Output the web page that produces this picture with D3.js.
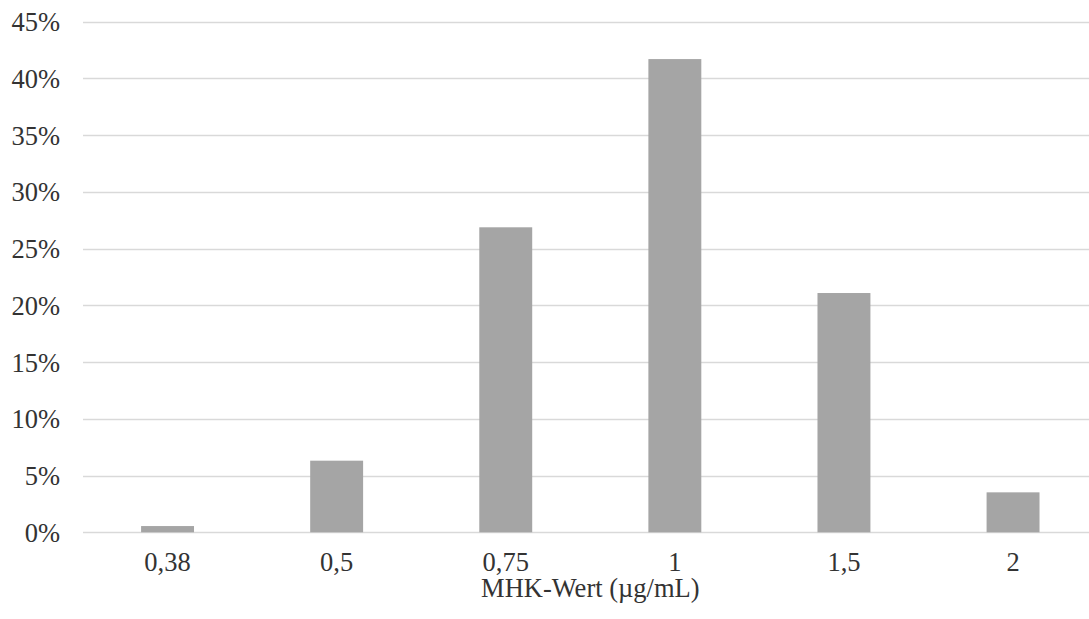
<!DOCTYPE html>
<html>
<head>
<meta charset="utf-8">
<script src="https://cdn.jsdelivr.net/npm/d3@7"></script>
<style>
  html, body { margin: 0; padding: 0; background: #fff; }
  svg { display: block; }
  .tick text { font-family: "Liberation Serif", "Times New Roman", serif; fill: #333; }
</style>
</head>
<body>
<div id="chart"></div>
<script>
// MIC distribution (share of isolates per MIC value)
const categories = ["0,38", "0,5", "0,75", "1", "1,5", "2"];
const shares = [0.55, 6.31, 26.87, 41.69, 21.08, 3.52];
const y_ticks = [0, 5, 10, 15, 20, 25, 30, 35, 40, 45];
const x_title = "MHK-Wert (µg/mL)";

const W = 1089, H = 619;
const margin = { left: 83, top: 21.5, bottom: 86.7 };
const plot_right = 1097.6;   // plot runs past the picture edge

const svg = d3.select("#chart").append("svg")
  .attr("width", W)
  .attr("height", H);

const x = d3.scaleBand()
  .domain(categories)
  .range([margin.left, plot_right])
  .paddingInner(0.687)
  .paddingOuter(0.3435);

const y = d3.scaleLinear()
  .domain([0, 45])
  .range([H - margin.bottom, margin.top]);

// gridlines
svg.append("g")
  .selectAll("line")
  .data(y_ticks)
  .join("line")
    .attr("x1", margin.left)
    .attr("x2", plot_right)
    .attr("y1", d => Math.round(y(d)) + 0.5)
    .attr("y2", d => Math.round(y(d)) + 0.5)
    .attr("stroke", "#d9d9d9")
    .attr("stroke-width", 1.3);

// bars
svg.append("g")
  .selectAll("rect")
  .data(shares)
  .join("rect")
    .attr("x", (d, i) => x(categories[i]))
    .attr("y", d => y(d))
    .attr("width", x.bandwidth())
    .attr("height", d => y(0) - y(d))
    .attr("fill", "#a5a5a5");

// y axis
const y_axis = svg.append("g")
  .attr("transform", `translate(${margin.left - 23},0)`)
  .call(d3.axisLeft(y).tickValues(y_ticks).tickSize(0).tickPadding(0).tickFormat(d => d + "%"));
y_axis.select(".domain").remove();
y_axis.selectAll("text")
  .attr("font-size", 26.5)
  .attr("dy", "0.34em");

// x axis
const x_axis = svg.append("g")
  .attr("transform", `translate(0,${y(0)})`)
  .call(d3.axisBottom(x).tickSize(0).tickPadding(0));
x_axis.select(".domain").remove();
x_axis.selectAll("text")
  .attr("font-size", 26.5)
  .attr("dy", null)
  .attr("y", 39);

svg.append("text")
  .attr("x", (margin.left + plot_right) / 2)
  .attr("y", 597)
  .attr("text-anchor", "middle")
  .attr("font-family", "'Liberation Serif', 'Times New Roman', serif")
  .attr("font-size", 26.5)
  .attr("fill", "#333")
  .text(x_title);
</script>
</body>
</html>
